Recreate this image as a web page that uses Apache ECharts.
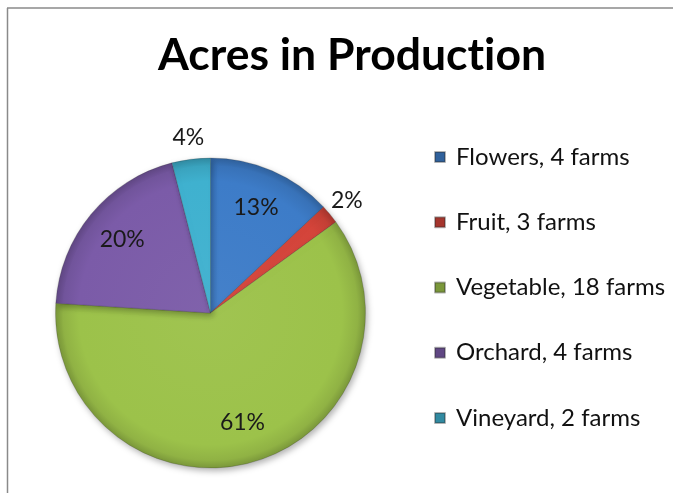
<!DOCTYPE html>
<html>
<head>
<meta charset="utf-8">
<script src="https://cdn.jsdelivr.net/npm/echarts@6/dist/echarts.min.js"></script>
<style>
  html, body { margin: 0; padding: 0; background: #fff; }
  #chart { width: 673px; height: 493px; }
</style>
</head>
<body>
<div id="chart"></div>
<script>
// Share of acres in production by crop type (percent)
const categories = ['Flowers, 4 farms', 'Fruit, 3 farms', 'Vegetable, 18 farms', 'Orchard, 4 farms', 'Vineyard, 2 farms'];
const acresPercent = [13, 2, 61, 20, 4];
const sliceColors = ['#3d7cc8', '#d4443a', '#9cc24a', '#7b5ba8', '#3fb1cf'];

const FONT = 'Lato, "Open Sans", sans-serif';
const CX = 210.5, CY = 313, R = 155;

// Shaded fill: lighter toward the middle, darker at the rim
function shade(hex, amt) {
  const n = parseInt(hex.slice(1), 16);
  let r = (n >> 16) & 255, g = (n >> 8) & 255, b = n & 255;
  const f = v => Math.max(0, Math.min(255, Math.round(amt >= 0 ? v + (255 - v) * amt : v * (1 + amt))));
  return 'rgb(' + f(r) + ',' + f(g) + ',' + f(b) + ')';
}
function sliceFill(hex) {
  return new echarts.graphic.RadialGradient(CX, CY, R, [
    { offset: 0, color: shade(hex, 0.04) },
    { offset: 0.85, color: hex },
    { offset: 0.95, color: shade(hex, -0.08) },
    { offset: 1, color: shade(hex, -0.22) }
  ], true);
}

const pieData = categories.map((name, i) => ({
  name,
  value: acresPercent[i],
  itemStyle: { color: sliceFill(sliceColors[i]) }
}));

// Label layers: big slices labelled inside, thin slices just outside the rim
const labelText = p => p.value + '%';
const innerLabels = categories.map((name, i) => ({
  name, value: acresPercent[i],
  label: { show: acresPercent[i] >= 5 }
}));
const outerLabels = categories.map((name, i) => ({
  name, value: acresPercent[i],
  label: { show: acresPercent[i] < 5 }
}));

const chart = echarts.init(document.getElementById('chart'), null, { renderer: 'canvas' });

const labelStyle = {
  position: 'inside',
  formatter: labelText,
  color: '#1a1a1a',
  fontFamily: FONT,
  fontSize: 23
};

const titleFont = { fontFamily: FONT, fontWeight: 'bold', fontSize: 44.5, color: '#000' };

chart.setOption({
  animation: false,
  color: sliceColors,
  title: {
    // drawn in two runs so the "ti" pair keeps its plain letterforms
    text: '{t|Acres in Product}{t|ion}',
    left: 347,
    top: 28,
    textAlign: 'center',
    textStyle: { rich: { t: titleFont } }
  },
  legend: {
    orient: 'vertical',
    left: 434,
    top: 144,
    padding: 0,
    itemWidth: 10,
    itemHeight: 10,
    itemGap: 39.25,
    icon: 'rect',
    data: categories,
    textStyle: { fontFamily: FONT, fontSize: 24, color: '#111', lineHeight: 26, padding: [0, 0, 0, 6] }
  },
  graphic: [
    { type: 'line', shape: { x1: 7.5, y1: 8, x2: 7.5, y2: 493 }, style: { stroke: '#8a8a8a', lineWidth: 1.5 } },
    { type: 'line', shape: { x1: 7, y1: 8, x2: 673, y2: 8 }, style: { stroke: '#8a8a8a', lineWidth: 1.5 } }
  ],
  series: [
    {
      type: 'pie',
      center: [CX, CY],
      radius: [0, R],
      startAngle: 90,
      clockwise: true,
      data: pieData,
      label: { show: false },
      labelLine: { show: false },
      itemStyle: {
        borderColor: 'rgba(40,40,40,0.35)',
        borderWidth: 0.6,
        shadowBlur: 6,
        shadowOffsetX: 2,
        shadowOffsetY: 3,
        shadowColor: 'rgba(0,0,0,0.3)'
      },
      emphasis: { disabled: true }
    },
    {
      type: 'pie',
      center: [CX, CY],
      radius: [R * 0.44, R],
      startAngle: 90,
      clockwise: true,
      silent: true,
      data: innerLabels,
      itemStyle: { color: 'rgba(0,0,0,0)' },
      label: labelStyle,
      labelLine: { show: false },
      emphasis: { disabled: true }
    },
    {
      type: 'pie',
      center: [CX, CY],
      radius: [R + 2, R + 36],
      startAngle: 90,
      clockwise: true,
      silent: true,
      data: outerLabels,
      itemStyle: { color: 'rgba(0,0,0,0)' },
      label: labelStyle,
      labelLine: { show: false },
      emphasis: { disabled: true }
    }
  ]
});
</script>
</body>
</html>
